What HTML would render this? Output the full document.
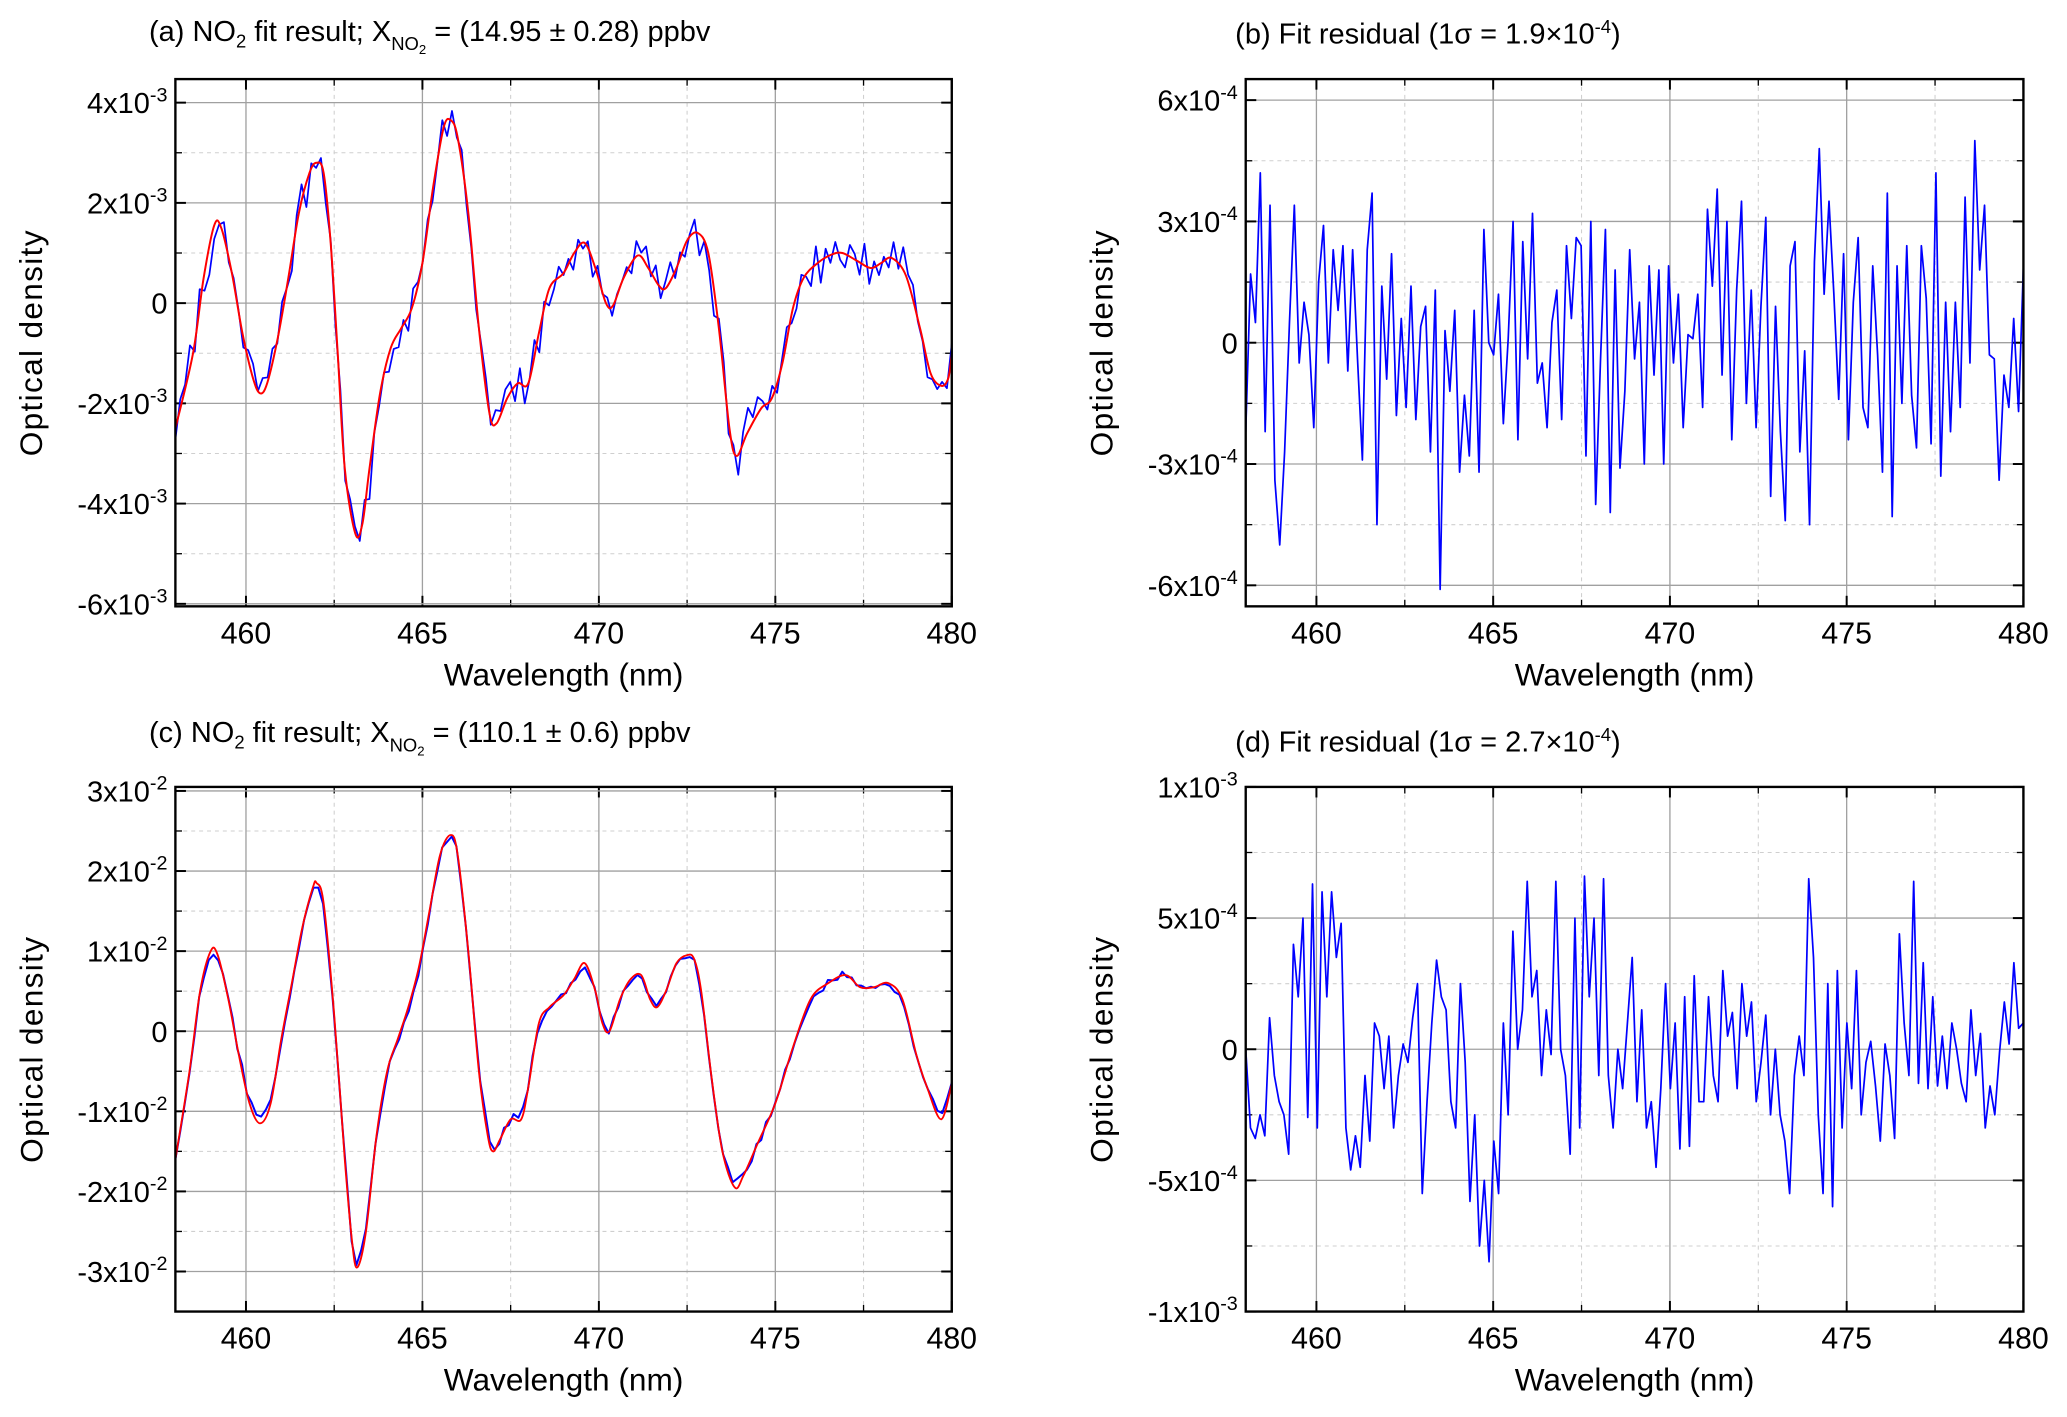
<!DOCTYPE html>
<html><head><meta charset="utf-8"><style>
html,body{margin:0;padding:0;background:#fff;}
svg{display:block;font-family:"Liberation Sans","DejaVu Sans",sans-serif;}
</style></head><body>
<svg id="fig" width="2067" height="1417" viewBox="0 0 1568 1075" xmlns="http://www.w3.org/2000/svg"></svg>
<script>
// ---- data ----
const fitAWl = [458.0,458.5,458.8,459.1,459.3,459.6,459.9,460.2,460.4,460.6,460.9,461.2,461.5,461.8,462.0,462.2,462.4,462.6,462.8,463.1,463.3,463.5,463.8,464.1,464.4,464.7,465.0,465.3,465.6,465.8,466.0,466.3,466.6,466.9,467.1,467.4,467.7,468.0,468.3,468.6,469.0,469.3,469.6,469.9,470.2,470.4,470.7,471.1,471.4,471.7,471.9,472.2,472.5,472.8,473.1,473.4,473.7,473.9,474.2,474.6,474.9,475.2,475.5,475.8,476.2,476.6,476.9,477.3,477.7,478.0,478.3,478.7,479.1,479.4,479.7,479.9,480.0];
const fitAVal = [-2.5,-1.0,0.5,1.55,1.5,0.6,-0.6,-1.5,-1.8,-1.6,-0.7,0.5,1.8,2.6,2.8,2.6,1.2,-1.0,-3.3,-4.6,-4.4,-3.3,-1.8,-0.9,-0.5,-0.1,0.8,2.3,3.5,3.65,3.3,1.8,-0.5,-2.2,-2.4,-1.9,-1.6,-1.6,-0.6,0.3,0.6,1.0,1.2,0.7,0.0,-0.05,0.5,0.95,0.7,0.35,0.3,0.7,1.25,1.4,1.0,-0.5,-2.5,-3.05,-2.6,-2.1,-1.9,-1.2,-0.1,0.5,0.8,0.97,1.0,0.85,0.7,0.8,0.9,0.55,-0.5,-1.4,-1.65,-1.5,-1.0]; // x1e-3
const residB = [-2.2,1.7,0.5,4.2,-2.2,3.4,-3.4,-5.0,-2.7,0.5,3.4,-0.5,1.0,0.2,-2.1,1.5,2.9,-0.5,2.3,0.8,2.4,-0.7,2.3,-0.4,-2.9,2.3,3.7,-4.5,1.4,-0.9,2.2,-1.8,0.6,-1.6,1.4,-1.9,0.4,0.9,-2.7,1.3,-6.1,0.3,-1.2,0.8,-3.2,-1.3,-2.8,0.8,-3.2,2.8,0.0,-0.3,1.2,-2.0,0.1,3.0,-2.4,2.5,-0.4,3.2,-1.0,-0.5,-2.1,0.5,1.3,-1.9,2.4,0.6,2.6,2.4,-2.8,3.0,-4.0,-0.4,2.8,-4.2,1.8,-3.1,-1.2,2.3,-0.4,1.0,-3.0,1.9,-0.8,1.8,-3.0,1.9,-0.5,1.2,-2.1,0.2,0.1,1.2,-1.6,3.3,1.4,3.8,-0.8,3.0,-2.4,1.3,3.5,-1.5,1.3,-2.1,0.9,3.1,-3.8,0.9,-2.2,-4.4,1.9,2.5,-2.7,-0.2,-4.5,2.0,4.8,1.2,3.5,1.2,-1.4,2.2,-2.4,1.0,2.6,-1.6,-2.1,1.9,-0.3,-3.2,3.7,-4.3,1.9,-1.5,2.4,-1.3,-2.6,2.4,1.1,-2.5,4.2,-3.3,1.0,-2.2,1.0,-1.6,3.6,-0.5,5.0,1.8,3.4,-0.3,-0.4,-3.4,-0.8,-1.6,0.6,-1.7,1.9]; // x1e-4
const fitCWl = [458.0,458.4,458.7,459.0,459.2,459.5,459.8,460.1,460.4,460.7,461.0,461.3,461.6,461.9,462.0,462.2,462.5,462.8,463.0,463.15,463.4,463.7,464.0,464.3,464.6,464.9,465.2,465.5,465.8,466.0,466.3,466.6,466.85,467.0,467.2,467.5,467.8,468.0,468.3,468.6,469.0,469.3,469.6,469.9,470.1,470.3,470.6,470.9,471.2,471.45,471.65,471.9,472.2,472.5,472.7,472.9,473.2,473.5,473.85,474.1,474.5,475.0,475.5,476.0,476.5,477.0,477.4,477.8,478.2,478.6,479.0,479.3,479.7,480.0];
const fitCVal = [-1.6,-0.5,0.5,1.0,0.95,0.4,-0.3,-0.9,-1.15,-0.9,-0.1,0.6,1.3,1.8,1.85,1.6,0.2,-1.6,-2.6,-2.95,-2.5,-1.3,-0.5,-0.1,0.3,0.8,1.5,2.2,2.45,2.2,1.0,-0.5,-1.3,-1.5,-1.35,-1.1,-1.1,-0.7,0.1,0.3,0.45,0.65,0.85,0.5,0.1,0.0,0.4,0.65,0.7,0.4,0.3,0.5,0.85,0.95,0.9,0.5,-0.6,-1.5,-1.95,-1.8,-1.4,-0.9,-0.2,0.4,0.6,0.7,0.55,0.55,0.6,0.4,-0.3,-0.7,-1.1,-0.65]; // x1e-2
const residD = [0,-3,-3.4,-2.5,-3.3,1.2,-1,-2,-2.5,-4,4,2,5,-2.6,6.3,-3,6,2,6,3.5,4.8,-3,-4.6,-3.3,-4.5,-1,-3.5,1,0.5,-1.5,0.5,-3,-1,0.2,-0.5,1.2,2.5,-5.5,-2,1,3.4,2,1.5,-2,-3,2.5,-0.5,-5.8,-2.5,-7.5,-5,-8.1,-3.5,-5.5,1,-2.5,4.5,0,1.5,6.4,2,3,-1,1.5,-0.2,6.4,0,-1,-4,5,-3,6.6,2,5,-1,6.5,-1,-3,0,-1.5,1,3.5,-2,1.5,-3,-2,-4.5,-1.5,2.5,-1.5,1,-3.8,2,-3.7,2.8,-2,-2,2,-1,-2,3,0.5,1.4,-1.5,2.5,0.5,1.8,-2,-0.5,1.3,-2.5,0,-2.5,-3.5,-5.5,-1,0.5,-1,6.5,3.5,-2.5,-5.5,2.5,-6,3,-3,1,-1.5,3,-2.5,-0.5,0.3,-1.4,-3.5,0.2,-1,-3.4,4.4,1,-1,6.4,-1.3,3.3,-1.5,2,-1.4,0.5,-1.5,1,0,-1.3,-2,1.5,-1,0.6,-3,-1.4,-2.5,-0.1,1.8,0.2,3.3,0.8,1.0]; // x1e-4

// ---- helpers ----
const NS = "http://www.w3.org/2000/svg";
const svg = document.getElementById('fig');
function mk(tag, attrs, parent){ const e=document.createElementNS(NS,tag); for(const k in attrs) e.setAttribute(k,attrs[k]); (parent||svg).appendChild(e); return e; }
function interp(xs, ys, x){ if(x<=xs[0]) return ys[0]; for(let i=1;i<xs.length;i++){ if(x<=xs[i]){ const t=(x-xs[i-1])/(xs[i]-xs[i-1]); return ys[i-1]+t*(ys[i]-ys[i-1]); } } return ys[ys.length-1]; }
function smoothPath(pts){ let d='M'+pts[0][0].toFixed(2)+','+pts[0][1].toFixed(2); for(let i=0;i<pts.length-1;i++){ const p0=pts[Math.max(0,i-1)],p1=pts[i],p2=pts[i+1],p3=pts[Math.min(pts.length-1,i+2)]; const c1=[p1[0]+(p2[0]-p0[0])/6,p1[1]+(p2[1]-p0[1])/6], c2=[p2[0]-(p3[0]-p1[0])/6,p2[1]-(p3[1]-p1[1])/6]; d+='C'+c1[0].toFixed(2)+','+c1[1].toFixed(2)+' '+c2[0].toFixed(2)+','+c2[1].toFixed(2)+' '+p2[0].toFixed(2)+','+p2[1].toFixed(2);} return d; }
function linePath(pts){ return pts.map((p,i)=>(i?'L':'M')+p[0].toFixed(2)+','+p[1].toFixed(2)).join(''); }

function panel(o){
  const g = mk('g',{});
  
  
  const X = w => o.x0 + (w-458)/(480-458)*(o.x1-o.x0);
  const Y = v => o.y1 - (v-o.ymin)/(o.ymax-o.ymin)*(o.y1-o.y0);
  // minor grid x
  [462.5,467.5,472.5,477.5].forEach(w=>{ const l=mk('line',{x1:X(w),x2:X(w),y1:o.y0,y2:o.y1,stroke:'#cfcfcf','stroke-width':0.8,'stroke-dasharray':'3,3'},g);  
    mk('line',{x1:X(w),x2:X(w),y1:o.y1,y2:o.y1-5,stroke:'#000','stroke-width':1},g); mk('line',{x1:X(w),x2:X(w),y1:o.y0,y2:o.y0+5,stroke:'#000','stroke-width':1},g); });
  o.minor.forEach(v=>{ const l=mk('line',{x1:o.x0,x2:o.x1,y1:Y(v),y2:Y(v),stroke:'#cfcfcf','stroke-width':0.8,'stroke-dasharray':'3,3'},g);   mk('line',{x1:o.x0,x2:o.x0+5,y1:Y(v),y2:Y(v),stroke:'#000','stroke-width':1},g); mk('line',{x1:o.x1,x2:o.x1-5,y1:Y(v),y2:Y(v),stroke:'#000','stroke-width':1},g); });
  // major grid x
  [460,465,470,475,480].forEach(w=>{ const l=mk('line',{x1:X(w),x2:X(w),y1:o.y0,y2:o.y1,stroke:'#a0a0a0','stroke-width':1},g);  
    mk('line',{x1:X(w),x2:X(w),y1:o.y1,y2:o.y1-8,stroke:'#000','stroke-width':1.5},g); mk('line',{x1:X(w),x2:X(w),y1:o.y0,y2:o.y0+8,stroke:'#000','stroke-width':1.5},g);
    const t=mk('text',{x:X(w),y:o.y1+28,'font-size':23,'text-anchor':'middle',fill:'#000'},g); t.textContent=w;   });
  // major grid y + labels
  o.ticks.forEach((v,i)=>{ const l=mk('line',{x1:o.x0,x2:o.x1,y1:Y(v),y2:Y(v),stroke:'#a0a0a0','stroke-width':1},g);  
    mk('line',{x1:o.x0,x2:o.x0+8,y1:Y(v),y2:Y(v),stroke:'#000','stroke-width':1.5},g); mk('line',{x1:o.x1,x2:o.x1-8,y1:Y(v),y2:Y(v),stroke:'#000','stroke-width':1.5},g);
    const t=mk('text',{x:o.x0-6,y:Y(v)+8,'font-size':22,'text-anchor':'end',fill:'#000'},g);
     
    const lab=o.tickLabels[i];
    if(lab.exp===null){ t.textContent=lab.m; } else { const a=mk('tspan',{},t); a.textContent=lab.m+'x10'; const b=mk('tspan',{dy:-9,'font-size':15},t); b.textContent=lab.exp; }
  });
  const clip = 'clip-'+o.name; const cp=mk('clipPath',{id:clip},g); mk('rect',{x:o.x0,y:o.y0,width:o.x1-o.x0,height:o.y1-o.y0},cp);
  o.series.forEach(s=>{ const p=mk('path',{d:s.smooth?smoothPath(s.pts.map(q=>[X(q[0]),Y(q[1])])):linePath(s.pts.map(q=>[X(q[0]),Y(q[1])])),fill:'none',stroke:s.color,'stroke-width':s.w,'stroke-linejoin':'round','clip-path':'url(#'+clip+')'},g);   });
  const fr=mk('rect',{x:o.x0,y:o.y0,width:o.x1-o.x0,height:o.y1-o.y0,fill:'none',stroke:'#000','stroke-width':1.8},g);  
  const xt=mk('text',{x:(o.x0+o.x1)/2,y:o.y1+60,'font-size':24,'text-anchor':'middle',fill:'#000'},g); xt.textContent='Wavelength (nm)';  
  const yc=(o.y0+o.y1)/2; const yt=mk('text',{x:o.ylx,y:yc,'font-size':24,'text-anchor':'middle',fill:'#000','letter-spacing':'1',transform:'rotate(-90 '+o.ylx+' '+yc+')'},g); yt.textContent='Optical density';  
  return g;
}

function blueFrom(fx, fy, resid, scale){ const n=resid.length; return resid.map((r,i)=>{ const w=458+22*i/(n-1); return [w, interp(fx,fy,w)+r*scale]; }); }
function residPts(resid){ const n=resid.length; return resid.map((r,i)=>[458+22*i/(n-1), r]); }

const tickA=[4,2,0,-2,-4,-6], tickALab=tickA.map(v=>({m:v===0?'0':String(v),exp:v===0?null:'-3'}));
panel({name:'panel-a',x0:133,x1:722,y0:60,y1:460,ymin:-6.05,ymax:4.47,ticks:tickA,tickLabels:tickALab,minor:[3,1,-1,-3,-5],ylx:32,
  series:[{name:'measured-od-a',color:'#0000ff',w:1.3,pts:blueFrom(fitAWl,fitAVal,residB,0.1)},{name:'fit-curve-a',color:'#ff0000',w:1.5,smooth:true,pts:fitAWl.map((w,i)=>[w,fitAVal[i]])}]});
const tickB=[6,3,0,-3,-6], tickBLab=tickB.map(v=>({m:v===0?'0':String(v),exp:v===0?null:'-4'}));
panel({name:'panel-b',x0:945,x1:1535,y0:60,y1:460,ymin:-6.52,ymax:6.52,ticks:tickB,tickLabels:tickBLab,minor:[4.5,1.5,-1.5,-4.5],ylx:844,
  series:[{name:'residual-b',color:'#0000ff',w:1.3,pts:residPts(residB)}]});
const tickC=[3,2,1,0,-1,-2,-3], tickCLab=tickC.map(v=>({m:v===0?'0':String(v),exp:v===0?null:'-2'}));
panel({name:'panel-c',x0:133,x1:722,y0:597,y1:995,ymin:-3.5,ymax:3.05,ticks:tickC,tickLabels:tickCLab,minor:[2.5,1.5,0.5,-0.5,-1.5,-2.5],ylx:32,
  series:[{name:'measured-od-c',color:'#0000ff',w:1.5,pts:blueFrom(fitCWl,fitCVal,residD,0.01)},{name:'fit-curve-c',color:'#ff0000',w:1.4,smooth:true,pts:fitCWl.map((w,i)=>[w,fitCVal[i]])}]});
const tickD=[10,5,0,-5,-10], tickDLab=[{m:'1',exp:'-3'},{m:'5',exp:'-4'},{m:'0',exp:null},{m:'-5',exp:'-4'},{m:'-1',exp:'-3'}];
panel({name:'panel-d',x0:945,x1:1535,y0:597,y1:995,ymin:-10,ymax:10,ticks:tickD,tickLabels:tickDLab,minor:[7.5,2.5,-2.5,-7.5],ylx:844,
  series:[{name:'residual-d',color:'#0000ff',w:1.3,pts:residPts(residD)}]});
</script>
<script>
(function(){
 const svg=document.getElementById('fig'); const NS="http://www.w3.org/2000/svg";
 function title(x,y,html,name){ const t=document.createElementNS(NS,'text'); t.setAttribute('x',x); t.setAttribute('y',y); t.setAttribute('font-size',22); t.setAttribute('fill','#000'); t.innerHTML=html; svg.appendChild(t);
  
   }
 title(113,31,'(a) NO<tspan dy="5" font-size="14">2</tspan><tspan dy="-5"> fit result; X</tspan><tspan dy="7" font-size="14">NO</tspan><tspan dy="3" font-size="10">2</tspan><tspan dy="-10"> = (14.95 ± 0.28) ppbv</tspan>','title-a');
 title(937,33,'(b) Fit  residual  (1σ = 1.9×10<tspan dy="-8" font-size="14">-4</tspan><tspan dy="8">)</tspan>','title-b');
 title(113,563,'(c) NO<tspan dy="5" font-size="14">2</tspan><tspan dy="-5"> fit result; X</tspan><tspan dy="7" font-size="14">NO</tspan><tspan dy="3" font-size="10">2</tspan><tspan dy="-10"> = (110.1 ± 0.6) ppbv</tspan>','title-c');
 title(937,570,'(d) Fit  residual  (1σ = 2.7×10<tspan dy="-8" font-size="14">-4</tspan><tspan dy="8">)</tspan>','title-d');
})();
</script>
</body></html>
